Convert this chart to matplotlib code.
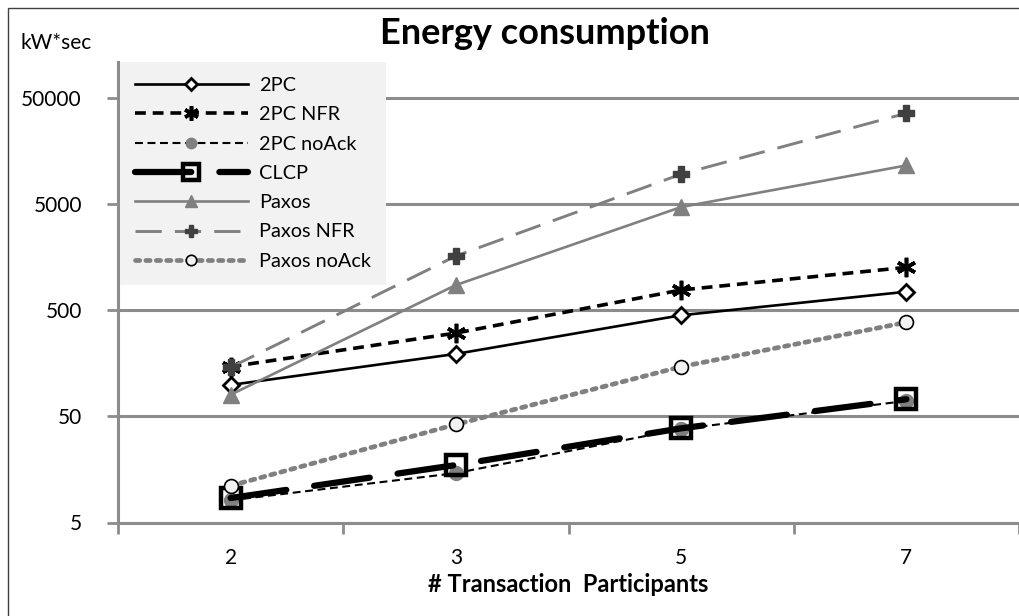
import matplotlib
matplotlib.use("Agg")
import matplotlib.pyplot as plt
import numpy as np
from matplotlib.patches import Rectangle

plt.rcParams['font.family'] = ['Lato', 'DejaVu Sans']

# data (kW*sec, log scale)
participants = ['2', '3', '5', '7']
pc2 = [99, 194, 449, 748]
pc2_nfr = [147, 305, 777, 1270]
pc2_noack = [8.1, 14.6, 38, 70]
clcp = [8.5, 17.4, 38.6, 72.5]
paxos = [80, 865, 4700, 11600]
paxos_nfr = [145, 1625, 9600, 36000]
paxos_noack = [11.1, 42, 147, 385]

W, H = 1019, 616
fig = plt.figure(figsize=(W / 100, H / 100), dpi=100)
ax = fig.add_axes([118 / W, (H - 522.5) / H, 901 / W, (522.5 - 62) / H])

x = np.arange(len(participants))
grey = '#808080'

ax.plot(x, pc2, color='black', lw=1.9, marker='D', ms=8, mfc='white',
        mec='black', mew=2, label='2PC')
ax.plot(x, pc2_nfr, color='black', lw=2.6, dashes=(3.0, 1.9),
        marker=(6, 2, 0), ms=14, mec='black', mew=2.6, label='2PC NFR')
ax.plot(x, pc2_noack, color='black', lw=1.5, dashes=(3.8, 2.2),
        marker='o', ms=10, mfc=grey, mec=grey, label='2PC noAck')
ax.plot(x, clcp, color='black', lw=4.5, dashes=(9, 4.5),
        dash_capstyle='round', marker='s', ms=15, mfc='none', mec='black',
        mew=3.2, label='CLCP')
ax.plot(x, paxos, color=grey, lw=1.9, marker='^', ms=11, mfc=grey,
        mec=grey, label='Paxos')
ax.plot(x, paxos_nfr, color=grey, lw=2.1, dashes=(9, 4.5),
        marker='P', ms=12, mfc='#404040', mec='#404040', label='Paxos NFR')
ax.plot(x, paxos_noack, color=grey, lw=3.4, dashes=(0.9, 1.3),
        dash_capstyle='round', marker='o', ms=10, mfc='#f2f2f2',
        mec='black', mew=1.2, label='Paxos noAck')

ax.set_yscale('log')
top = 10 ** (np.log10(5) + (522.5 - 62) / 106.1)
ax.set_ylim(5, top)
ax.set_xlim(-0.5, 3.5)
ax.set_yticks([5, 50, 500, 5000, 50000])
ax.set_yticklabels(['5', '50', '500', '5000', '50000'])
ax.yaxis.set_minor_locator(matplotlib.ticker.NullLocator())
ax.grid(axis='y', color='#8c8c8c', lw=2.2)
ax.set_axisbelow(True)

ax.set_xticks(np.arange(-0.5, 4, 1))
ax.set_xticklabels([])
ax.set_xticks(x, minor=True)
ax.set_xticklabels(participants, minor=True)
ax.tick_params(axis='x', which='minor', length=0, pad=18, labelsize=15)
ax.tick_params(axis='x', which='major', length=8, width=2, color='#8c8c8c')
ax.tick_params(axis='y', length=8, width=2, color='#8c8c8c', labelsize=15,
               pad=18)

for s in ['top', 'right']:
    ax.spines[s].set_visible(False)
for s in ['left', 'bottom']:
    ax.spines[s].set_color('#8c8c8c')
    ax.spines[s].set_linewidth(2.2)

ax.set_xlabel('# Transaction  Participants', fontsize=17, fontweight='bold',
              labelpad=4)

leg = ax.legend(loc='upper left', bbox_to_anchor=(0.002, 1.0), fontsize=14.3,
                handlelength=5.7, handletextpad=0.55, labelspacing=0.62,
                borderpad=0.75, borderaxespad=0, frameon=True, fancybox=False)
leg.get_frame().set_facecolor('#f2f2f2')
leg.get_frame().set_edgecolor('none')
leg.get_frame().set_alpha(1)
for h in leg.legend_handles:
    h.set_markersize(h.get_markersize() * 0.75)

fig.text(545 / W, 1 - 33 / H, 'Energy consumption', ha='center',
         va='center', fontsize=26, fontweight='bold')
fig.text(20 / W, 1 - 43 / H, 'kW*sec', ha='left', va='center', fontsize=15)

fig.patches.append(Rectangle((8 / W, -0.1), 1.2, 1.1 - 8 / H,
                             transform=fig.transFigure, fill=False,
                             edgecolor='#404040', lw=1))

fig.savefig('out.png', dpi=100)
